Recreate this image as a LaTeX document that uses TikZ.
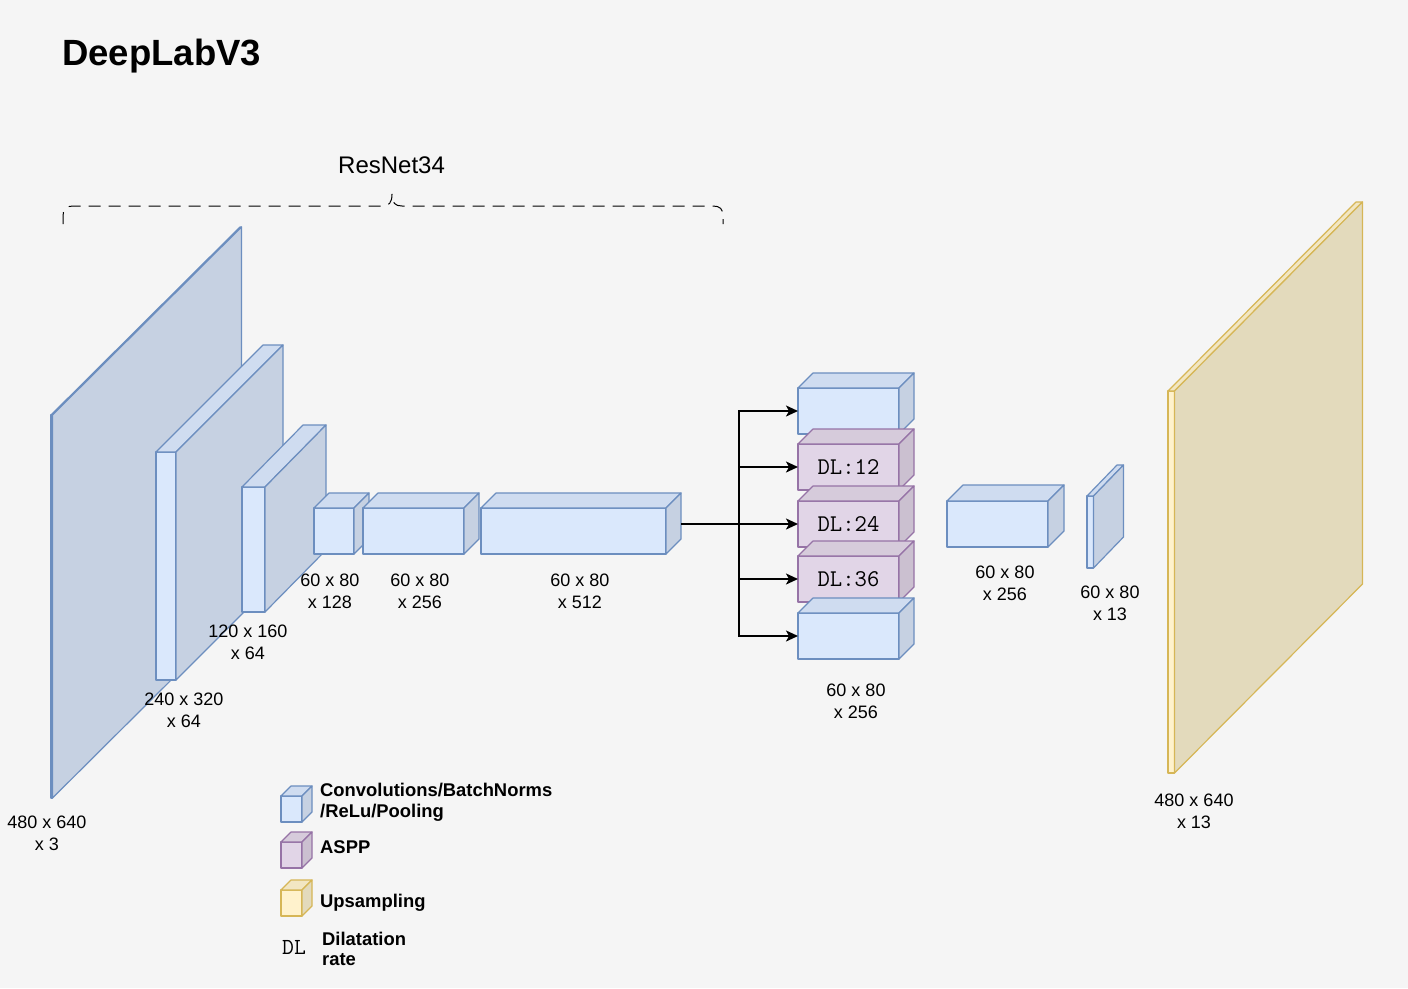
\documentclass[tikz,border=0pt]{standalone}
\usepackage{fontspec}
\setmainfont{Liberation Sans}
\usetikzlibrary{arrows.meta}
\definecolor{bg}{HTML}{F5F5F5}
\definecolor{bfill}{HTML}{DAE8FC}
\definecolor{bstroke}{HTML}{6C8EBF}
\definecolor{btop}{HTML}{CFDCF0}
\definecolor{bside}{HTML}{C6D1E2}
\definecolor{pfill}{HTML}{E1D5E7}
\definecolor{pstroke}{HTML}{9673A6}
\definecolor{ptop}{HTML}{D6CBDB}
\definecolor{pside}{HTML}{CBC0D0}
\definecolor{yfill}{HTML}{FFF2CC}
\definecolor{ystroke}{HTML}{D6B656}
\definecolor{ytop}{HTML}{F2E6C2}
\definecolor{yside}{HTML}{E3DABC}
\tikzset{
  face/.style={line width=1.2pt, line join=round},
  bluefront/.style={face, draw=bstroke, fill=bfill, inner sep=0pt, outer sep=0pt},
  bluetop/.style={face, draw=bstroke, fill=btop},
  blueside/.style={face, draw=bstroke, fill=bside},
  purplefront/.style={face, draw=pstroke, fill=pfill, inner sep=0pt, outer sep=0pt},
  purpletop/.style={face, draw=pstroke, fill=ptop},
  purpleside/.style={face, draw=pstroke, fill=pside},
  yellowfront/.style={face, draw=ystroke, fill=yfill, inner sep=0pt, outer sep=0pt},
  yellowtop/.style={face, draw=ystroke, fill=ytop},
  yellowside/.style={face, draw=ystroke, fill=yside},
  lbl/.style={font=\fontsize{18}{22}\selectfont, align=center, inner sep=0pt},
  legtxt/.style={font=\fontsize{18.4}{21}\selectfont\bfseries, align=left, inner sep=0pt},
  arr/.style={line width=1.7pt, -{Stealth[length=12pt,width=11pt,inset=3pt]}},
  link/.style={line width=1.7pt},
  bracestyle/.style={line width=1pt, dash pattern=on 12pt off 8pt},
}
\newcommand\dlfont{\fontsize{24}{26}\selectfont\ttfamily\addfontfeatures{FakeBold=1.3}}
% name, colour, x, y, w, h, dx, dy, text
\newcommand\cuboid[9]{%
  \node[#2front, minimum width=#5pt, minimum height=#6pt, anchor=north west] (#1) at (#3,#4) {#9};
  \draw[#2top] (#1.north west) -- ++(#7pt,#8pt) -- ([shift={(#7pt,#8pt)}]#1.north east) -- (#1.north east) -- cycle;
  \draw[#2side] (#1.north east) -- ++(#7pt,#8pt) -- ([shift={(#7pt,#8pt)}]#1.south east) -- (#1.south east) -- cycle;
}
\begin{document}
\begin{tikzpicture}[x=1pt, y=-1pt]
\useasboundingbox (0,0) rectangle (1408,988);
\fill[bg] (0,0) rectangle (1408,988);

% title and brace
\node[anchor=base west, inner sep=0pt, font=\fontsize{36.5}{40}\selectfont\bfseries] (title) at (62,65) {DeepLabV3};
\node[anchor=base west, inner sep=0pt, font=\fontsize{24}{26}\selectfont] (resnet) at (338,173) {ResNet34};
\draw[bracestyle] (63,224) -- (63,216) .. controls (63,209) and (66,206) .. (73,206) -- (382,206)
  .. controls (389,206) and (392,203) .. (392,194) .. controls (392,203) and (395,206) .. (402,206)
  -- (713,206) .. controls (720,206) and (723,209) .. (723,216) -- (723,224);

% encoder
\cuboid{inp}{blue}{51}{415}{1.5}{383}{189}{188}{}
\cuboid{c1}{blue}{156}{452}{20}{228}{107}{107}{}
\cuboid{c2}{blue}{242}{487}{23}{125}{61}{62}{}
\cuboid{c3}{blue}{314}{508}{40}{46}{15}{15}{}
\cuboid{c4}{blue}{363}{508}{101}{46}{15}{15}{}
\cuboid{c5}{blue}{481}{508}{185}{46}{15}{15}{}

% ASPP
\cuboid{a1}{blue}{798}{388}{101}{46}{15}{15}{}
\cuboid{a2}{purple}{798}{444}{101}{46}{15}{15}{\dlfont DL:12}
\cuboid{a3}{purple}{798}{501}{101}{46}{15}{15}{\dlfont DL:24}
\cuboid{a4}{purple}{798}{556}{101}{46}{15}{15}{\dlfont DL:36}
\cuboid{a5}{blue}{798}{613}{101}{46}{15}{15}{}

% decoder
\cuboid{d1}{blue}{947}{501}{101}{46}{16}{16}{}
\cuboid{d2}{blue}{1087}{496}{6.5}{72}{30}{31}{}
\cuboid{out}{yellow}{1168}{391}{6.5}{382}{188}{189}{}

% connectors
\coordinate (c5out) at ([shift={(15pt,7pt)}]c5.east);
\coordinate (split) at (739,524);
\draw[link] (c5out) -- (split);
\foreach \n in {a1,a2,a3,a4,a5}{ \draw[arr] (split) |- (\n.west); }

% labels
\node[lbl] (l1) at (47,833) {480 x 640\\x 3};
\node[lbl] (l2) at (184,710) {240 x 320\\x 64};
\node[lbl] (l3) at (248,642) {120 x 160\\x 64};
\node[lbl] (l4) at (330,591) {60 x 80\\x 128};
\node[lbl] (l5) at (420,591) {60 x 80\\x 256};
\node[lbl] (l6) at (580,591) {60 x 80\\x 512};
\node[lbl] (l7) at (856,701) {60 x 80\\x 256};
\node[lbl] (l8) at (1005,583) {60 x 80\\x 256};
\node[lbl] (l9) at (1110,603) {60 x 80\\x 13};
\node[lbl] (l10) at (1194,811) {480 x 640\\x 13};

% legend
\cuboid{lg1}{blue}{281}{796}{21}{26}{10}{10}{}
\cuboid{lg2}{purple}{281}{842}{21}{26}{10}{10}{}
\cuboid{lg3}{yellow}{281}{890}{21}{26}{10}{10}{}
\node[legtxt, anchor=west] (lt1) at (320,802.5) {Convolutions/BatchNorms\\/ReLu/Pooling};
\node[legtxt, anchor=base west] (lt2) at (320,853) {ASPP};
\node[legtxt, anchor=base west] (lt3) at (320,907) {Upsampling};
\node[anchor=base, inner sep=0pt, font=\fontsize{23}{24}\selectfont\ttfamily] (lt4a) at (294,954) {DL};
\node[legtxt, anchor=west, font=\fontsize{18.4}{19.5}\selectfont\bfseries] (lt4) at (322,949) {Dilatation\\rate};
\end{tikzpicture}
\end{document}
